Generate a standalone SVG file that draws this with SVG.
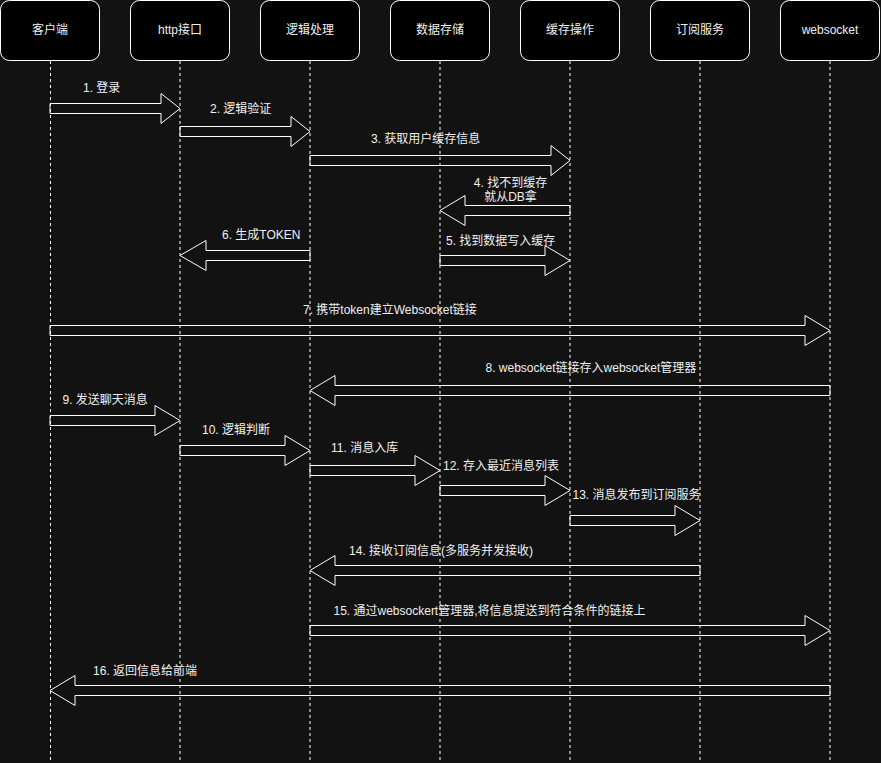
<svg xmlns="http://www.w3.org/2000/svg" width="881" height="763" viewBox="0 0 881 763">
<style>
.bg{fill:#121212}
.box{fill:#000;stroke:#fff;stroke-width:1}
.t{font-family:"Liberation Sans","Noto Sans CJK SC",sans-serif;font-size:12px;fill:#f0f0f0}
.c{text-anchor:middle}
.life{stroke:#fff;stroke-width:1;stroke-dasharray:3 3;fill:none}
.arr{fill:none;stroke:#fff;stroke-width:1;stroke-linejoin:miter}
</style>
<rect class="bg" x="0" y="0" width="881" height="763"/>
<g id="node-client"><rect class="box" x="0.5" y="0.5" width="99" height="60" rx="9"/><text class="t c" x="50" y="34">客户端</text></g>
<g id="node-http"><rect class="box" x="130.5" y="0.5" width="99" height="60" rx="9"/><text class="t c" x="180" y="34">http接口</text></g>
<g id="node-logic"><rect class="box" x="260.5" y="0.5" width="99" height="60" rx="9"/><text class="t c" x="310" y="34">逻辑处理</text></g>
<g id="node-db"><rect class="box" x="390.5" y="0.5" width="99" height="60" rx="9"/><text class="t c" x="440" y="34">数据存储</text></g>
<g id="node-cache"><rect class="box" x="520.5" y="0.5" width="99" height="60" rx="9"/><text class="t c" x="570" y="34">缓存操作</text></g>
<g id="node-sub"><rect class="box" x="650.5" y="0.5" width="99" height="60" rx="9"/><text class="t c" x="700" y="34">订阅服务</text></g>
<g id="node-ws"><rect class="box" x="780.5" y="0.5" width="99" height="60" rx="9"/><text class="t c" x="830" y="34">websocket</text></g>
<g id="connectors">
<path class="arr" d="M50,103.5 L161,103.5 L161,93.5 L180,108.5 L161,123.5 L161,113.5 L50,113.5 Z"/>
<text class="t" x="83" y="92">1. 登录</text>
<path class="arr" d="M180,126.5 L291,126.5 L291,116.5 L310,131.5 L291,146.5 L291,136.5 L180,136.5 Z"/>
<text class="t" x="210" y="112.5">2. 逻辑验证</text>
<path class="arr" d="M310,155.5 L551,155.5 L551,145.5 L570,160.5 L551,175.5 L551,165.5 L310,165.5 Z"/>
<text class="t" x="371" y="142.5">3. 获取用户缓存信息</text>
<path class="arr" d="M570,205.5 L465,205.5 L465,195.5 L440,210.5 L465,225.5 L465,215.5 L570,215.5 Z"/>
<text class="t c" x="510.5" y="186.5">4. 找不到缓存</text>
<text class="t c" x="510.5" y="201">就从DB拿</text>
<path class="arr" d="M440,255.5 L545,255.5 L545,245.5 L570,260.5 L545,275.5 L545,265.5 L440,265.5 Z"/>
<text class="t" x="446" y="244.5">5. 找到数据写入缓存</text>
<path class="arr" d="M310,250.5 L206,250.5 L206,240.5 L180,255.5 L206,270.5 L206,260.5 L310,260.5 Z"/>
<text class="t" x="222" y="238.5">6. 生成TOKEN</text>
<path class="arr" d="M50,325.5 L805,325.5 L805,315.5 L830,330.5 L805,345.5 L805,335.5 L50,335.5 Z"/>
<text class="t" x="303" y="313.5">7. 携带token建立Websocket链接</text>
<path class="arr" d="M830,385.5 L335,385.5 L335,375.5 L310,390.5 L335,405.5 L335,395.5 L830,395.5 Z"/>
<text class="t" x="485.5" y="372">8. websocket链接存入websocket管理器</text>
<path class="arr" d="M50,415.5 L155,415.5 L155,405.5 L180,420.5 L155,435.5 L155,425.5 L50,425.5 Z"/>
<text class="t" x="62.5" y="403.5">9. 发送聊天消息</text>
<path class="arr" d="M180,445.5 L285,445.5 L285,435.5 L310,450.5 L285,465.5 L285,455.5 L180,455.5 Z"/>
<text class="t" x="202" y="434">10. 逻辑判断</text>
<path class="arr" d="M310,465.5 L415,465.5 L415,455.5 L440,470.5 L415,485.5 L415,475.5 L310,475.5 Z"/>
<text class="t" x="331" y="451.5">11. 消息入库</text>
<path class="arr" d="M440,485.5 L545,485.5 L545,475.5 L570,490.5 L545,505.5 L545,495.5 L440,495.5 Z"/>
<text class="t" x="443" y="469.5">12. 存入最近消息列表</text>
<path class="arr" d="M570,515.5 L675,515.5 L675,505.5 L700,520.5 L675,535.5 L675,525.5 L570,525.5 Z"/>
<text class="t" x="572.5" y="498.5">13. 消息发布到订阅服务</text>
<path class="arr" d="M700,565.5 L335,565.5 L335,555.5 L310,570.5 L335,585.5 L335,575.5 L700,575.5 Z"/>
<text class="t" x="349" y="554.5">14. 接收订阅信息(多服务并发接收)</text>
<path class="arr" d="M310,625.5 L805,625.5 L805,615.5 L830,630.5 L805,645.5 L805,635.5 L310,635.5 Z"/>
<text class="t" x="333.5" y="614.5">15. 通过websockert管理器,将信息提送到符合条件的链接上</text>
<path class="arr" d="M830,685.5 L75,685.5 L75,675.5 L50,690.5 L75,705.5 L75,695.5 L830,695.5 Z"/>
<text class="t" x="93" y="674.5">16. 返回信息给前端</text>
</g>
<g id="lifelines">
<line class="life" x1="50.5" y1="61" x2="50.5" y2="763"/>
<line class="life" x1="180" y1="61" x2="180" y2="763"/>
<line class="life" x1="310" y1="61" x2="310" y2="763"/>
<line class="life" x1="440" y1="61" x2="440" y2="763"/>
<line class="life" x1="570" y1="61" x2="570" y2="763"/>
<line class="life" x1="700" y1="61" x2="700" y2="763"/>
<line class="life" x1="830" y1="61" x2="830" y2="763"/>
</g>
</svg>
